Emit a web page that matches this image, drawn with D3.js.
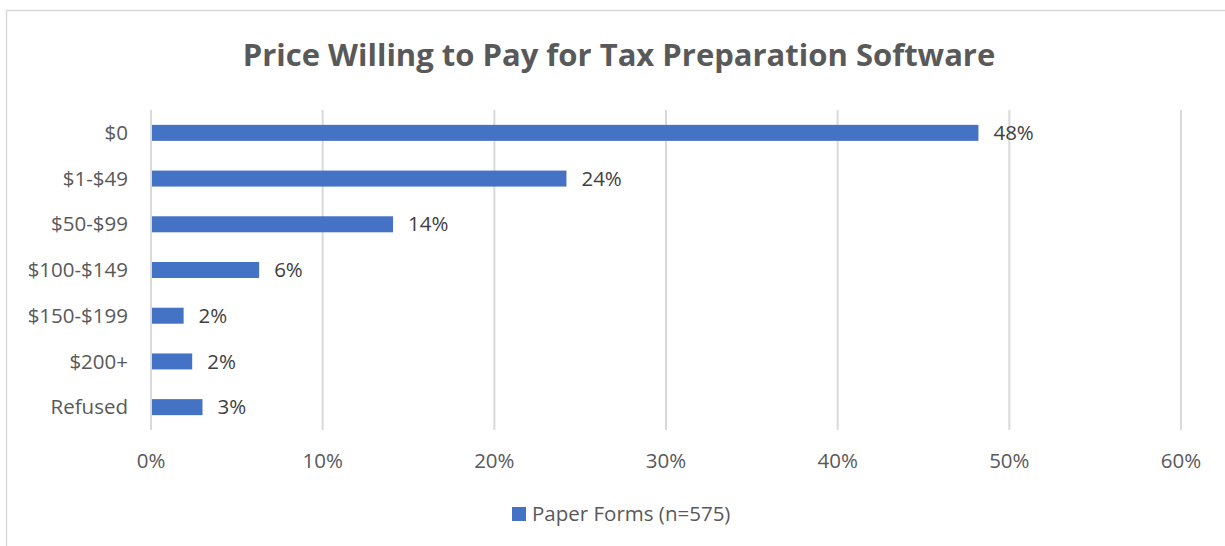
<!DOCTYPE html>
<html>
<head>
<meta charset="utf-8">
<script src="https://cdn.jsdelivr.net/npm/d3@7"></script>
<style>
  html, body { margin: 0; padding: 0; background: #fff; }
  svg { display: block; font-family: "Open Sans", Lato, sans-serif; }
</style>
</head>
<body>
<svg id="chart" width="1225" height="546"></svg>
<script>
// --- Data ---
const categories = ['$0', '$1-$49', '$50-$99', '$100-$149', '$150-$199', '$200+', 'Refused'];
const values = [48.2, 24.2, 14.1, 6.3, 1.9, 2.4, 3.0];
const valueLabels = ['48%', '24%', '14%', '6%', '2%', '2%', '3%'];
const xTicks = [0, 10, 20, 30, 40, 50, 60];
const seriesName = 'Paper Forms (n=575)';
const title = 'Price Willing to Pay for Tax Preparation Software';

const svg = d3.select('#chart');
const W = 1225, H = 546;
const margin = { top: 110, right: 44, bottom: 116, left: 151 };
const fs = 20.5;

// chart frame (runs off the right and bottom edges)
svg.append('rect')
  .attr('x', 6.5).attr('y', 10.5)
  .attr('width', W).attr('height', H)
  .attr('fill', '#fff')
  .attr('stroke', '#d9d9d9')
  .attr('stroke-width', 1.5);

const x = d3.scaleLinear().domain([0, 60]).range([margin.left, W - margin.right]);
const y = d3.scaleBand().domain(categories)
  .range([margin.top, H - margin.bottom])
  .paddingInner(0.65).paddingOuter(0.325);

// gridlines
svg.append('g').selectAll('line')
  .data(xTicks)
  .join('line')
  .attr('x1', d => x(d)).attr('x2', d => x(d))
  .attr('y1', margin.top).attr('y2', H - margin.bottom)
  .attr('stroke', '#d9d9d9')
  .attr('stroke-width', 2);

// x tick labels
svg.append('g').selectAll('text')
  .data(xTicks)
  .join('text')
  .attr('x', d => x(d))
  .attr('y', 468)
  .attr('text-anchor', 'middle')
  .attr('fill', '#595959')
  .attr('font-size', fs)
  .text(d => d + '%');

// bars
const rows = categories.map((c, i) => ({ cat: c, val: values[i], label: valueLabels[i] }));

svg.append('g').selectAll('rect')
  .data(rows)
  .join('rect')
  .attr('x', x(0) + 1)
  .attr('y', d => y(d.cat))
  .attr('width', d => x(d.val) - x(0) - 1)
  .attr('height', y.bandwidth())
  .attr('fill', '#4472c4');

// value labels
svg.append('g').selectAll('text')
  .data(rows)
  .join('text')
  .attr('x', d => x(d.val) + 15)
  .attr('y', d => y(d.cat) + y.bandwidth() / 2)
  .attr('dy', '0.35em')
  .attr('fill', '#404040')
  .attr('font-size', fs)
  .text(d => d.label);

// category labels
svg.append('g').selectAll('text')
  .data(categories)
  .join('text')
  .attr('x', 128)
  .attr('y', d => y(d) + y.bandwidth() / 2)
  .attr('dy', '0.35em')
  .attr('text-anchor', 'end')
  .attr('fill', '#595959')
  .attr('font-size', fs)
  .text(d => d);

// title
svg.append('text')
  .attr('x', 619)
  .attr('y', 66)
  .attr('text-anchor', 'middle')
  .attr('fill', '#595959')
  .attr('font-size', 31)
  .attr('font-weight', 'bold')
  .text(title);

// legend
const legend = svg.append('g').attr('transform', 'translate(512,507)');
legend.append('rect')
  .attr('width', 14).attr('height', 14)
  .attr('fill', '#4472c4');
legend.append('text')
  .attr('x', 20).attr('y', 7)
  .attr('dy', '0.35em')
  .attr('fill', '#595959')
  .attr('font-size', fs)
  .text(seriesName);
</script>
</body>
</html>
